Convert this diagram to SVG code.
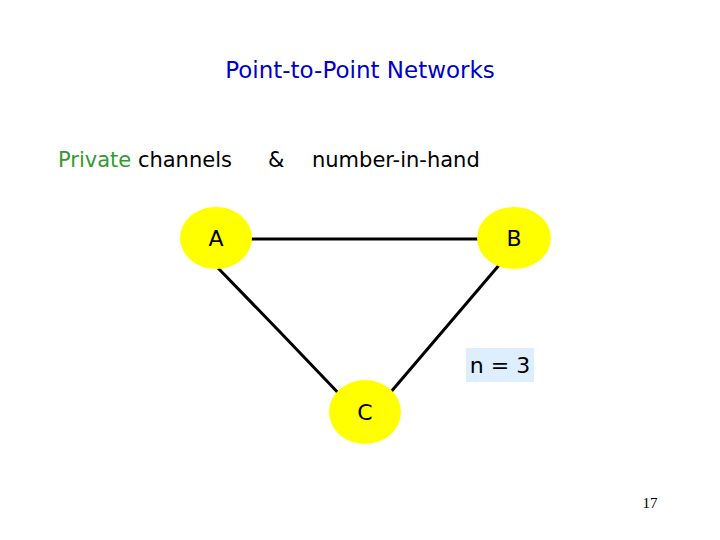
<svg xmlns="http://www.w3.org/2000/svg" width="720" height="540" viewBox="0 0 720 540">
<style>
text{font-family:"DejaVu Sans","Liberation Sans",sans-serif;}
.n{fill:#ffff00;stroke:none}
.e{stroke:#000;stroke-width:3;fill:none}
.l{font-size:22px;fill:#000}
</style>
<rect width="720" height="540" fill="#fff"/>
<text x="360" y="78" text-anchor="middle" font-size="23" fill="#0000cc">Point-to-Point Networks</text>
<text x="58" y="167" font-size="21"><tspan fill="#339933">Private</tspan> channels</text>
<text x="268" y="167" font-size="21">&amp;</text>
<text x="312" y="167" font-size="21">number-in-hand</text>
<g id="edges">
<line class="e" x1="250" y1="239" x2="480" y2="239"/>
<polyline class="e" points="218,268 280,332 345,400"/>
<line class="e" x1="500" y1="264" x2="390" y2="393"/>
</g>
<g id="A"><ellipse class="n" cx="216" cy="238" rx="36" ry="31"/><text class="l" x="216" y="246" text-anchor="middle">A</text></g>
<g id="B"><ellipse class="n" cx="514" cy="238" rx="37" ry="31"/><text class="l" x="514" y="246" text-anchor="middle">B</text></g>
<g id="C"><ellipse class="n" cx="365" cy="412" rx="36" ry="32"/><text class="l" x="365" y="420" text-anchor="middle">C</text></g>
<g id="label"><rect x="466" y="348" width="68" height="34" fill="#ddeeff"/><text class="l" x="500" y="373" text-anchor="middle">n = 3</text></g>
<text x="650" y="508" text-anchor="middle" font-size="15" font-family="Liberation Serif,serif" style="font-family:'Liberation Serif',serif">17</text>
</svg>
